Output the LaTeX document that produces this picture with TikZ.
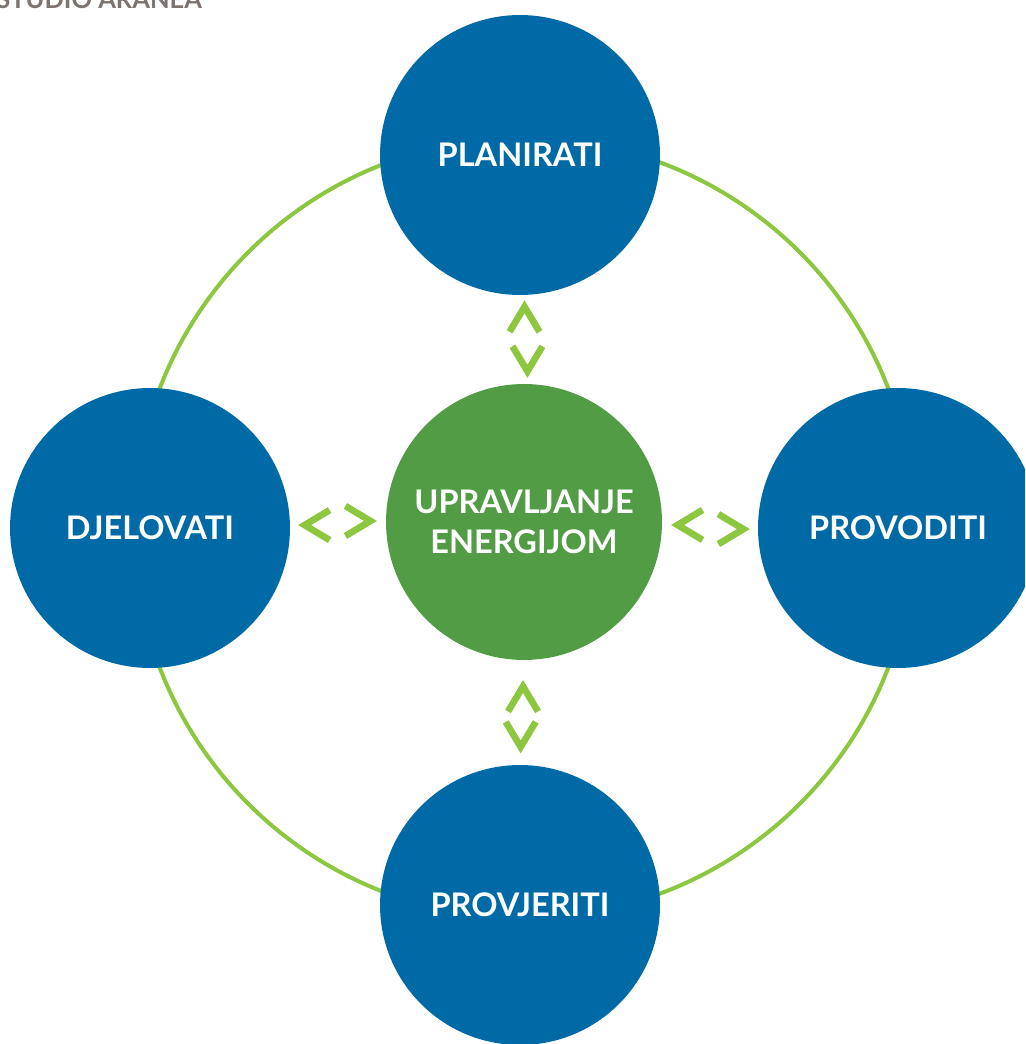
\documentclass[tikz,border=0pt]{standalone}
\usepackage{fontspec}
\setmainfont{Lato}
\usetikzlibrary{calc, positioning}
\definecolor{ringgreen}{RGB}{141,198,63}
\definecolor{phaseblue}{RGB}{0,106,166}
\definecolor{coregreen}{RGB}{81,156,69}
\definecolor{brandgray}{RGB}{125,116,112}
\tikzset{
  phase/.style={
    circle,
    fill=phaseblue,
    minimum size=5.6cm,
    inner sep=0pt,
    text=white,
    align=center,
    font=\fontsize{18.5}{23}\selectfont\bfseries
  },
  core/.style={
    phase,
    fill=coregreen,
    minimum size=5.52cm
  },
  ring/.style={
    draw=ringgreen,
    line width=2.3pt
  },
  chev/.style={
    draw=ringgreen,
    line width=3.8pt,
    line join=miter
  }
}

\begin{document}
\begin{tikzpicture}[x=0.02cm, y=-0.02cm]
    \useasboundingbox (0,0) rectangle (1025,1044);
    \clip (0,0) rectangle (1025,1044);

    % veliki prsten
    \draw[ring] (524,528) circle (390);

    % krugovi faza
    \node[phase] (plan) at (520,155) {PLANIRATI};
    \node[phase] (act) at (150,528) {DJELOVATI};
    \node[phase] (do) at (898,528) {PROVODITI};
    \node[phase] (check) at (520,905) {PROVJERITI};
    \node[core] (core) at (524,522) {UPRAVLJANJE\\ENERGIJOM};

    % strelice gore
    \coordinate (tU) at ($(plan.south)!0.13!(core.north)+(4,0)$);
    \coordinate (tD) at ($(plan.south)!0.86!(core.north)+(4,0)$);
    \draw[chev] ([shift={(-15,25)}]tU) -- (tU) -- ++(15,25);
    \draw[chev] ([shift={(-15,-25)}]tD) -- (tD) -- ++(15,-25);

    % strelice dolje
    \coordinate (bU) at ($(core.south)!0.25!(check.north)+(0,0)$);
    \coordinate (bD) at ($(core.south)!0.83!(check.north)+(0,0)$);
    \draw[chev] ([shift={(-15,25)}]bU) -- (bU) -- ++(15,25);
    \draw[chev] ([shift={(-15,-25)}]bD) -- (bD) -- ++(15,-25);

    % strelice lijevo
    \coordinate (lL) at ($(act.east)!0.15!(core.west)+(0,-2)$);
    \coordinate (lR) at ($(act.east)!0.84!(core.west)+(0,-2)$);
    \draw[chev] ([shift={(25,-15)}]lL) -- (lL) -- ++(25,15);
    \draw[chev] ([shift={(-25,-15)}]lR) -- (lR) -- ++(-25,15);

    % strelice desno
    \coordinate (rL) at ($(core.east)!0.16!(do.west)+(0,2)$);
    \coordinate (rR) at ($(core.east)!0.85!(do.west)+(0,2)$);
    \draw[chev] ([shift={(25,-15)}]rL) -- (rL) -- ++(25,15);
    \draw[chev] ([shift={(-25,-15)}]rR) -- (rR) -- ++(-25,15);

    % naslov
    \node[anchor=base west, inner sep=0pt, text=brandgray,
      font=\fontsize{14.5}{14.5}\selectfont\bfseries] (brand) at (-4,9) {STUDIO ARANEA};
\end{tikzpicture}
\end{document}
